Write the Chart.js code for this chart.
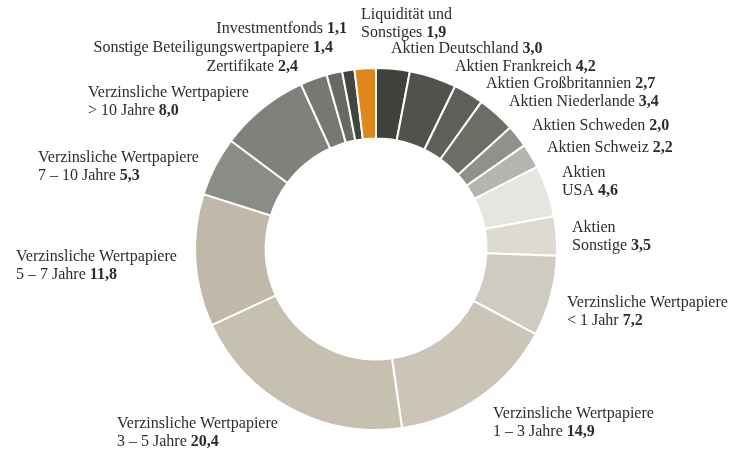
<!DOCTYPE html>
<html>
<head>
<meta charset="utf-8">
<script src="https://cdn.jsdelivr.net/npm/chart.js@4/dist/chart.umd.min.js"></script>
<style>
  html, body { margin: 0; padding: 0; background: #ffffff; }
  #wrap { width: 743px; height: 452px; position: relative; }
</style>
</head>
<body>
<div id="wrap"><canvas id="c" width="743" height="452"></canvas></div>
<script>
// ---- data (clockwise from 12 o'clock) ----
const categories = [
  ["Aktien Deutschland"],
  ["Aktien Frankreich"],
  ["Aktien Großbritannien"],
  ["Aktien Niederlande"],
  ["Aktien Schweden"],
  ["Aktien Schweiz"],
  ["Aktien", "USA"],
  ["Aktien", "Sonstige"],
  ["Verzinsliche Wertpapiere", "< 1 Jahr"],
  ["Verzinsliche Wertpapiere", "1 – 3 Jahre"],
  ["Verzinsliche Wertpapiere", "3 – 5 Jahre"],
  ["Verzinsliche Wertpapiere", "5 – 7 Jahre"],
  ["Verzinsliche Wertpapiere", "7 – 10 Jahre"],
  ["Verzinsliche Wertpapiere", "> 10 Jahre"],
  ["Zertifikate"],
  ["Sonstige Beteiligungswertpapiere"],
  ["Investmentfonds"],
  ["Liquidität und", "Sonstiges"]
];
const shares = [3.0, 4.2, 2.7, 3.4, 2.0, 2.2, 4.6, 3.5, 7.2, 14.9, 20.4, 11.8, 5.3, 8.0, 2.4, 1.4, 1.1, 1.9];
const sliceColors = [
  "#3f433b", "#50534b", "#5d6058", "#6c6e66", "#8f918b", "#b4b4b1",
  "#e6e5df", "#dcdad1", "#d0cbc0", "#cbc5b9", "#c6c0b1", "#c0b9aa",
  "#898d86", "#7e827b", "#757970", "#676a62", "#40453d", "#e0861b"
];

// ---- label layout (offsets from doughnut centre; baseline of first line) ----
const labelLayout = [
  { dx:  15, dy: -196, align: "left"  },
  { dx:  79, dy: -178, align: "left"  },
  { dx: 110, dy: -161, align: "left"  },
  { dx: 133, dy: -143, align: "left"  },
  { dx: 156, dy: -119, align: "left"  },
  { dx: 171, dy:  -97, align: "left"  },
  { dx: 186, dy:  -72, align: "left"  },
  { dx: 196, dy:  -17, align: "left"  },
  { dx: 191, dy:   58, align: "left"  },
  { dx: 117, dy:  169, align: "left"  },
  { dx: -259, dy: 179, align: "left"  },
  { dx: -360, dy:  12, align: "left"  },
  { dx: -338, dy: -87, align: "left"  },
  { dx: -288, dy: -152, align: "left" },
  { dx: -78, dy: -178, align: "right" },
  { dx: -43, dy: -197, align: "right" },
  { dx: -29, dy: -216, align: "right" },
  { dx: -15, dy: -230, align: "left"  }
];

const fmt = v => v.toFixed(1).replace(".", ",");
const FONT_FAMILY = "'Liberation Serif', 'Times New Roman', serif";
const FONT_SIZE = 16;
const LINE_H = 17.5;

const labelPlugin = {
  id: "sliceLabels",
  afterDraw(chart) {
    const ctx = chart.ctx;
    const meta = chart.getDatasetMeta(0);
    const cx = meta.data[0].x, cy = meta.data[0].y;
    ctx.save();
    ctx.fillStyle = "#2c2c2a";
    ctx.textBaseline = "alphabetic";
    categories.forEach((lines, i) => {
      const L = labelLayout[i];
      const x0 = cx + L.dx;
      let y = cy + L.dy;
      lines.forEach((line, j) => {
        const isLast = j === lines.length - 1;
        const normal = isLast ? line + " " : line;
        const bold = isLast ? fmt(shares[i]) : "";
        ctx.font = FONT_SIZE + "px " + FONT_FAMILY;
        const wN = ctx.measureText(normal).width;
        ctx.font = "bold " + FONT_SIZE + "px " + FONT_FAMILY;
        const wB = ctx.measureText(bold).width;
        let x = L.align === "right" ? x0 - (wN + wB) : x0;
        ctx.font = FONT_SIZE + "px " + FONT_FAMILY;
        ctx.textAlign = "left";
        ctx.fillText(normal, x, y);
        if (bold) {
          ctx.font = "bold " + FONT_SIZE + "px " + FONT_FAMILY;
          ctx.fillText(bold, x + wN, y);
        }
        y += LINE_H;
      });
    });
    ctx.restore();
  }
};

new Chart(document.getElementById("c"), {
  type: "doughnut",
  data: {
    labels: categories.map(l => l.join(" ")),
    datasets: [{
      data: shares,
      backgroundColor: sliceColors,
      borderColor: "#ffffff",
      borderWidth: 2,
      hoverOffset: 0
    }]
  },
  options: {
    responsive: false,
    animation: false,
    cutout: "61%",
    rotation: 0,
    layout: { padding: { left: 194, right: 185, top: 67, bottom: 21 } },
    plugins: {
      legend: { display: false },
      tooltip: { enabled: false }
    }
  },
  plugins: [labelPlugin]
});
</script>
</body>
</html>
